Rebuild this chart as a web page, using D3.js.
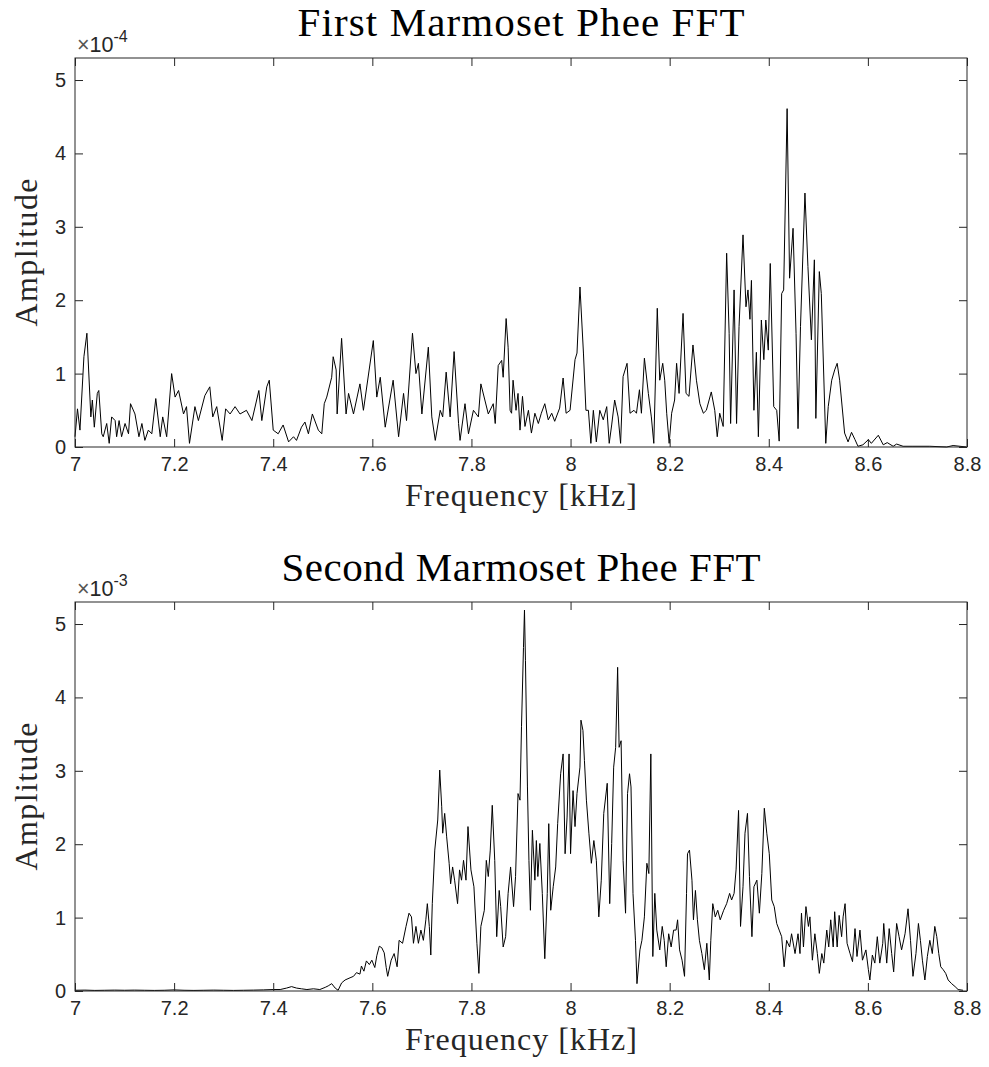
<!DOCTYPE html>
<html>
<head>
<meta charset="utf-8">
<script src="https://cdn.jsdelivr.net/npm/d3@7"></script>
<style>
  body { margin: 0; background: #fff; }
  svg { display: block; }
</style>
</head>
<body>
<svg id="fig" width="989" height="1067"></svg>
<script>
// Spectrum of the first call (amplitude in units of 1e-4)
const freq1 = [
  7.000, 7.005, 7.010, 7.018, 7.024, 7.032, 7.035, 7.039, 7.045, 7.048, 7.054, 7.057, 7.064, 7.069, 7.074,
  7.081, 7.084, 7.089, 7.094, 7.101, 7.108, 7.112, 7.121, 7.129, 7.135, 7.141, 7.148, 7.155, 7.163, 7.172,
  7.177, 7.185, 7.195, 7.202, 7.209, 7.219, 7.225, 7.231, 7.242, 7.249, 7.262, 7.272, 7.278, 7.286, 7.297,
  7.304, 7.313, 7.323, 7.333, 7.346, 7.357, 7.371, 7.377, 7.387, 7.392, 7.400, 7.410, 7.420, 7.431, 7.441,
  7.447, 7.457, 7.464, 7.471, 7.479, 7.491, 7.498, 7.503, 7.508, 7.518, 7.521, 7.527, 7.529, 7.538, 7.547,
  7.552, 7.562, 7.575, 7.582, 7.602, 7.609, 7.616, 7.626, 7.642, 7.653, 7.663, 7.669, 7.681, 7.688, 7.693,
  7.700, 7.713, 7.720, 7.727, 7.737, 7.742, 7.749, 7.757, 7.765, 7.774, 7.777, 7.787, 7.794, 7.804, 7.814,
  7.819, 7.834, 7.844, 7.848, 7.854, 7.861, 7.864, 7.870, 7.874, 7.878, 7.881, 7.884, 7.890, 7.894, 7.898,
  7.903, 7.908, 7.915, 7.921, 7.928, 7.935, 7.941, 7.948, 7.955, 7.962, 7.968, 7.978, 7.985, 7.991, 7.999,
  8.009, 8.013, 8.019, 8.026, 8.031, 8.036, 8.041, 8.046, 8.052, 8.059, 8.066, 8.073, 8.078, 8.083, 8.089,
  8.096, 8.101, 8.106, 8.114, 8.120, 8.128, 8.133, 8.139, 8.143, 8.149, 8.157, 8.163, 8.168, 8.175, 8.180,
  8.186, 8.190, 8.194, 8.199, 8.204, 8.210, 8.214, 8.219, 8.227, 8.233, 8.239, 8.247, 8.254, 8.261, 8.268,
  8.274, 8.284, 8.291, 8.296, 8.301, 8.308, 8.315, 8.320, 8.323, 8.330, 8.335, 8.340, 8.348, 8.354, 8.358,
  8.362, 8.365, 8.370, 8.375, 8.379, 8.385, 8.390, 8.394, 8.399, 8.403, 8.410, 8.416, 8.421, 8.426, 8.430,
  8.437, 8.442, 8.449, 8.455, 8.459, 8.464, 8.473, 8.479, 8.486, 8.492, 8.495, 8.502, 8.506, 8.515, 8.520,
  8.527, 8.533, 8.538, 8.543, 8.553, 8.560, 8.567, 8.574, 8.580, 8.590, 8.601, 8.607, 8.621, 8.631, 8.639,
  8.651, 8.658, 8.671, 8.691, 8.725, 8.759, 8.772, 8.799
];
const amp1 = [
  0.14, 0.52, 0.23, 1.23, 1.55, 0.41, 0.64, 0.27, 0.73, 0.77, 0.18, 0.14, 0.32, 0.05, 0.41,
  0.36, 0.14, 0.36, 0.14, 0.32, 0.18, 0.59, 0.45, 0.14, 0.32, 0.09, 0.23, 0.18, 0.66, 0.14,
  0.41, 0.14, 1.00, 0.68, 0.77, 0.45, 0.55, 0.05, 0.55, 0.36, 0.70, 0.82, 0.41, 0.55, 0.09,
  0.52, 0.45, 0.55, 0.45, 0.50, 0.36, 0.77, 0.36, 0.82, 0.91, 0.23, 0.18, 0.30, 0.07, 0.14,
  0.09, 0.27, 0.34, 0.18, 0.45, 0.23, 0.18, 0.59, 0.68, 0.95, 1.23, 1.05, 0.45, 1.48, 0.45,
  0.73, 0.45, 0.86, 0.50, 1.45, 0.68, 0.95, 0.27, 0.91, 0.14, 0.73, 0.36, 1.55, 1.00, 1.14,
  0.45, 1.36, 0.41, 0.09, 0.50, 0.41, 1.02, 0.41, 1.30, 0.32, 0.09, 0.59, 0.18, 0.50, 0.41,
  0.86, 0.45, 0.59, 0.32, 1.11, 1.18, 0.95, 1.75, 1.36, 0.50, 0.46, 0.91, 0.50, 0.73, 0.23,
  0.69, 0.28, 0.50, 0.19, 0.46, 0.32, 0.46, 0.59, 0.37, 0.46, 0.35, 0.53, 0.94, 0.46, 0.50,
  1.19, 1.28, 2.18, 1.28, 0.50, 0.50, 0.05, 0.50, 0.07, 0.50, 0.37, 0.55, 0.05, 0.30, 0.64,
  0.41, 0.05, 0.96, 1.14, 0.46, 0.50, 0.46, 0.78, 0.46, 1.21, 0.73, 0.41, 0.05, 1.89, 0.91,
  1.14, 0.91, 0.46, 0.05, 0.46, 0.64, 1.14, 0.73, 1.82, 0.73, 0.69, 1.39, 0.91, 0.59, 0.46,
  0.50, 0.75, 0.50, 0.14, 0.46, 0.28, 2.64, 1.55, 0.32, 2.14, 0.32, 1.64, 2.89, 1.91, 2.14,
  1.74, 2.27, 0.50, 1.29, 0.14, 1.73, 1.19, 1.73, 1.32, 2.50, 0.55, 0.50, 0.08, 2.09, 2.14,
  4.61, 2.30, 2.98, 1.55, 0.25, 1.64, 3.46, 2.46, 1.46, 2.55, 0.39, 2.39, 2.09, 0.05, 0.55,
  0.91, 1.05, 1.14, 0.91, 0.19, 0.07, 0.20, 0.10, 0.01, 0.03, 0.10, 0.05, 0.16, 0.03, 0.06,
  0.01, 0.04, 0.01, 0.01, 0.01, 0.00, 0.02, 0.00
];

// Spectrum of the second call (amplitude in units of 1e-3)
const freq2 = [
  7.000, 7.020, 7.040, 7.060, 7.080, 7.100, 7.120, 7.140, 7.160, 7.180, 7.200, 7.220, 7.240, 7.260, 7.280,
  7.300, 7.320, 7.340, 7.360, 7.380, 7.400, 7.414, 7.427, 7.437, 7.447, 7.457, 7.468, 7.481, 7.494, 7.505,
  7.511, 7.518, 7.525, 7.531, 7.538, 7.545, 7.555, 7.562, 7.568, 7.575, 7.578, 7.583, 7.588, 7.594, 7.599,
  7.605, 7.609, 7.614, 7.619, 7.624, 7.628, 7.631, 7.638, 7.644, 7.650, 7.654, 7.661, 7.668, 7.674, 7.679,
  7.683, 7.688, 7.693, 7.698, 7.703, 7.708, 7.711, 7.715, 7.718, 7.721, 7.726, 7.732, 7.736, 7.740, 7.742,
  7.746, 7.750, 7.755, 7.758, 7.762, 7.766, 7.772, 7.776, 7.780, 7.784, 7.789, 7.793, 7.799, 7.805, 7.811,
  7.815, 7.819, 7.826, 7.830, 7.834, 7.838, 7.842, 7.847, 7.851, 7.856, 7.859, 7.864, 7.869, 7.874, 7.879,
  7.885, 7.889, 7.894, 7.898, 7.901, 7.905, 7.907, 7.909, 7.913, 7.916, 7.919, 7.923, 7.928, 7.931, 7.934,
  7.938, 7.943, 7.948, 7.953, 7.956, 7.960, 7.965, 7.970, 7.974, 7.980, 7.985, 7.989, 7.993, 7.997, 8.000,
  8.005, 8.009, 8.013, 8.019, 8.021, 8.025, 8.028, 8.032, 8.037, 8.042, 8.047, 8.052, 8.057, 8.062, 8.067,
  8.074, 8.079, 8.083, 8.087, 8.091, 8.095, 8.098, 8.102, 8.106, 8.111, 8.115, 8.119, 8.122, 8.126, 8.131,
  8.134, 8.140, 8.144, 8.149, 8.154, 8.158, 8.162, 8.166, 8.170, 8.174, 8.180, 8.185, 8.189, 8.193, 8.198,
  8.203, 8.208, 8.213, 8.216, 8.220, 8.225, 8.230, 8.234, 8.236, 8.240, 8.245, 8.248, 8.252, 8.256, 8.260,
  8.265, 8.270, 8.275, 8.280, 8.283, 8.287, 8.292, 8.297, 8.302, 8.309, 8.315, 8.321, 8.325, 8.330, 8.334,
  8.339, 8.343, 8.348, 8.352, 8.357, 8.361, 8.366, 8.370, 8.376, 8.381, 8.386, 8.391, 8.396, 8.401, 8.406,
  8.411, 8.416, 8.421, 8.426, 8.431, 8.436, 8.442, 8.446, 8.453, 8.459, 8.463, 8.466, 8.470, 8.475, 8.480,
  8.483, 8.488, 8.493, 8.498, 8.502, 8.507, 8.511, 8.517, 8.521, 8.525, 8.530, 8.533, 8.538, 8.542, 8.547,
  8.550, 8.554, 8.558, 8.564, 8.569, 8.574, 8.578, 8.584, 8.589, 8.596, 8.601, 8.604, 8.609, 8.614, 8.619,
  8.624, 8.630, 8.632, 8.638, 8.643, 8.648, 8.652, 8.658, 8.663, 8.668, 8.675, 8.681, 8.686, 8.691, 8.697,
  8.702, 8.706, 8.710, 8.715, 8.720, 8.725, 8.730, 8.735, 8.739, 8.743, 8.747, 8.752, 8.757, 8.762, 8.769,
  8.776, 8.782, 8.792
];
const amp2 = [
  0.010, 0.012, 0.008, 0.010, 0.012, 0.010, 0.012, 0.010, 0.008, 0.010, 0.015, 0.010, 0.008, 0.010, 0.012,
  0.010, 0.008, 0.010, 0.012, 0.015, 0.020, 0.020, 0.040, 0.060, 0.040, 0.030, 0.020, 0.030, 0.020, 0.050,
  0.070, 0.100, 0.040, 0.010, 0.110, 0.150, 0.180, 0.200, 0.250, 0.230, 0.340, 0.270, 0.410, 0.360, 0.420,
  0.320, 0.480, 0.610, 0.590, 0.520, 0.320, 0.20, 0.42, 0.51, 0.33, 0.69, 0.65, 0.88, 1.06, 1.01,
  0.65, 0.88, 0.65, 0.83, 0.69, 0.97, 1.19, 0.88, 0.49, 1.19, 1.92, 2.33, 3.01, 2.51, 2.15,
  2.42, 2.10, 1.74, 1.46, 1.69, 1.51, 1.19, 1.65, 1.51, 1.78, 1.51, 2.24, 1.65, 1.42, 0.65,
  0.24, 0.88, 1.10, 1.78, 1.56, 1.92, 2.53, 1.78, 0.74, 1.37, 1.15, 0.60, 0.74, 1.33, 1.69,
  1.15, 1.56, 2.69, 2.60, 3.60, 4.68, 5.19, 4.50, 2.78, 1.78, 1.10, 2.19, 1.51, 2.05, 1.56,
  2.01, 1.33, 0.44, 1.33, 2.28, 1.10, 1.42, 1.69, 2.28, 2.96, 3.23, 1.87, 2.37, 3.23, 1.87,
  2.73, 2.24, 2.69, 3.05, 3.69, 3.55, 3.14, 2.60, 2.15, 1.74, 2.05, 1.78, 1.01, 1.51, 2.42,
  2.83, 1.19, 2.01, 3.05, 3.32, 4.41, 3.32, 3.41, 1.78, 1.06, 2.69, 2.96, 2.78, 1.33, 0.69,
  0.10, 0.56, 0.69, 1.01, 1.74, 1.60, 3.23, 0.47, 1.33, 0.83, 0.56, 0.88, 0.69, 0.33, 0.78,
  0.60, 0.83, 0.83, 0.97, 0.56, 0.42, 0.20, 1.33, 1.87, 1.92, 1.51, 0.97, 1.37, 0.97, 0.69,
  0.51, 0.29, 0.65, 0.15, 0.69, 1.19, 1.01, 1.10, 0.97, 1.10, 1.19, 1.33, 1.24, 1.33, 1.65,
  2.46, 0.88, 1.42, 2.15, 2.42, 1.56, 0.74, 1.42, 1.51, 1.06, 1.60, 2.49, 2.15, 1.87, 1.24,
  1.15, 0.92, 0.83, 0.74, 0.33, 0.69, 0.60, 0.78, 0.51, 0.78, 0.51, 1.06, 0.60, 1.15, 0.88,
  1.01, 0.42, 0.78, 0.51, 0.24, 0.51, 0.38, 0.83, 0.60, 0.97, 0.60, 1.08, 0.60, 1.03, 0.74,
  1.01, 1.19, 0.65, 0.51, 0.40, 0.85, 0.47, 0.83, 0.42, 0.56, 0.29, 0.15, 0.49, 0.38, 0.74,
  0.38, 0.65, 0.92, 0.38, 0.85, 0.51, 0.26, 0.92, 0.74, 0.56, 0.78, 1.12, 0.69, 0.20, 0.51,
  0.92, 0.69, 0.42, 0.15, 0.47, 0.69, 0.51, 0.88, 0.74, 0.51, 0.33, 0.29, 0.24, 0.15, 0.10,
  0.06, 0.02, 0.01
];

const xTicks = [7, 7.2, 7.4, 7.6, 7.8, 8, 8.2, 8.4, 8.6, 8.8];
const yTicks = [0, 1, 2, 3, 4, 5];
const titles = ["First Marmoset Phee FFT", "Second Marmoset Phee FFT"];
const exponents = ["-4", "-3"];
const xLabel = "Frequency [kHz]";
const yLabel = "Amplitude";

const ink = "#262626";
const serif = "'Liberation Serif', 'Times New Roman', serif";
const sans = "'Liberation Sans', Arial, Helvetica, sans-serif";

const svg = d3.select("#fig");
const left = 75, right = 967;

const panels = [
  { top: 58,  bottom: 447, freq: freq1, amp: amp1, title: titles[0], exp: exponents[0],
    titleY: 36, titleW: 447, xLabelY: 506 },
  { top: 602, bottom: 991, freq: freq2, amp: amp2, title: titles[1], exp: exponents[1],
    titleY: 581, titleW: 479, xLabelY: 1050 }
];

const x = d3.scaleLinear().domain([7, 8.8]).range([left, right]);

panels.forEach(p => {
  const y = d3.scaleLinear().domain([0, 5.3]).range([p.bottom, p.top]);
  const g = svg.append("g");

  // spectrum trace
  const pts = p.freq.map((f, i) => [f, p.amp[i]]);
  g.append("path")
    .datum(pts)
    .attr("fill", "none")
    .attr("stroke", "#000")
    .attr("stroke-width", 1)
    .attr("stroke-linejoin", "round")
    .attr("d", d3.line().x(d => x(d[0])).y(d => y(d[1])));

  const tickLen = 8;
  const styleAxis = sel => {
    sel.select(".domain").remove();
    sel.selectAll("line").attr("stroke", ink);
    sel.selectAll("text").attr("fill", ink).attr("font-family", sans).attr("font-size", 20);
  };

  g.append("g")
    .attr("transform", `translate(0,${p.bottom})`)
    .call(d3.axisBottom(x).tickValues(xTicks).tickSize(-tickLen).tickPadding(10)
      .tickFormat(d3.format("")))
    .call(styleAxis);

  g.append("g")
    .attr("transform", `translate(0,${p.top})`)
    .call(d3.axisTop(x).tickValues(xTicks).tickSize(-tickLen).tickFormat(""))
    .call(styleAxis);

  g.append("g")
    .attr("transform", `translate(${left},0)`)
    .call(d3.axisLeft(y).tickValues(yTicks).tickSize(-tickLen).tickPadding(9)
      .tickFormat(d3.format("d")))
    .call(styleAxis);

  g.append("g")
    .attr("transform", `translate(${right},0)`)
    .call(d3.axisRight(y).tickValues(yTicks).tickSize(-tickLen).tickFormat(""))
    .call(styleAxis);

  // axes box
  g.append("rect")
    .attr("x", left).attr("y", p.top)
    .attr("width", right - left).attr("height", p.bottom - p.top)
    .attr("fill", "none").attr("stroke", ink).attr("stroke-width", 1);

  // exponent label
  const ex = g.append("text")
    .attr("x", left + 2).attr("y", p.top - 6)
    .attr("fill", ink).attr("font-family", sans).attr("font-size", 21.5);
  ex.append("tspan").text("\u00d7").attr("fill", "#555");
  ex.append("tspan").text("10");
  ex.append("tspan").text(p.exp).attr("font-size", 16).attr("dy", -10);

  // title
  svg.append("text")
    .attr("x", (left + right) / 2).attr("y", p.titleY)
    .attr("text-anchor", "middle")
    .attr("font-family", serif).attr("font-size", 41).attr("fill", "#000")
    .attr("textLength", p.titleW).attr("lengthAdjust", "spacing")
    .text(p.title);

  // x label
  svg.append("text")
    .attr("x", (left + right) / 2).attr("y", p.xLabelY)
    .attr("text-anchor", "middle")
    .attr("font-family", serif).attr("font-size", 32).attr("fill", ink)
    .attr("textLength", 232).attr("lengthAdjust", "spacing")
    .text(xLabel);

  // y label
  svg.append("text")
    .attr("transform", `translate(37,${(p.top + p.bottom) / 2}) rotate(-90)`)
    .attr("text-anchor", "middle")
    .attr("font-family", serif).attr("font-size", 32).attr("fill", ink)
    .attr("textLength", 148).attr("lengthAdjust", "spacing")
    .text(yLabel);
});
</script>
</body>
</html>
